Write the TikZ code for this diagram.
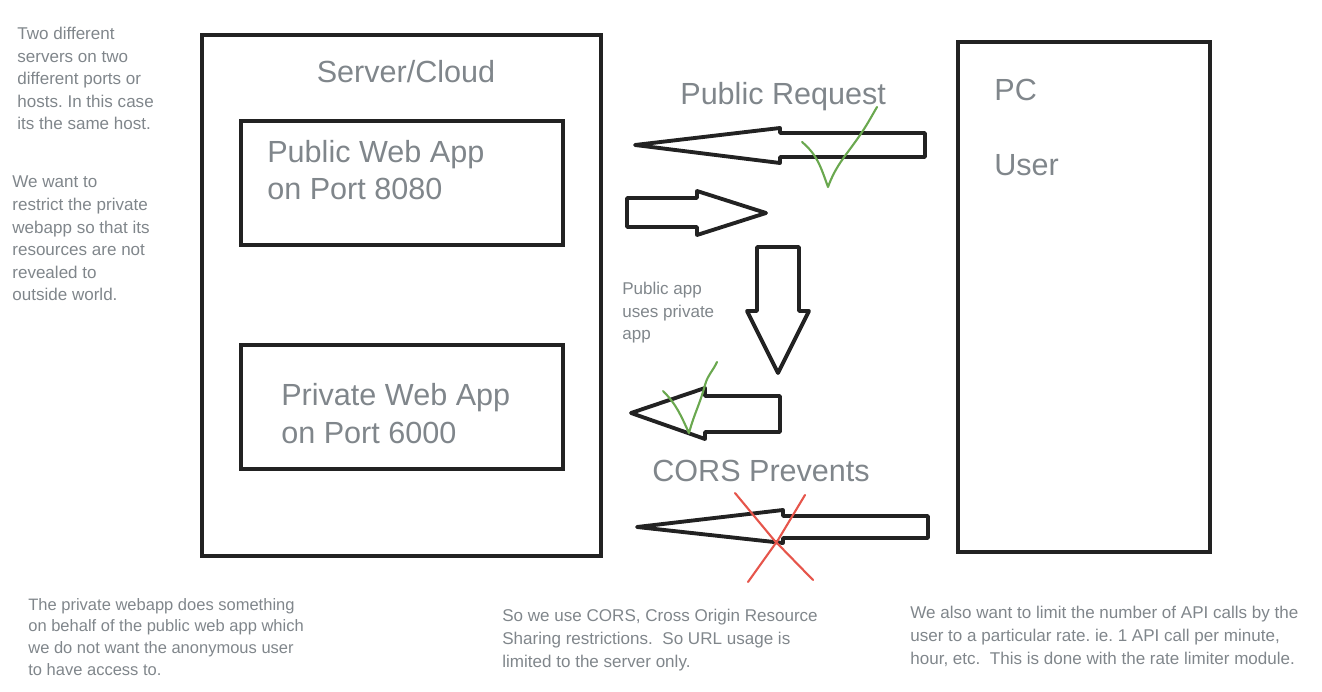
\documentclass[tikz,border=0pt]{standalone}
\usepackage{fontspec}
\setmainfont{Liberation Sans}
\usepackage{tikz}
\usetikzlibrary{positioning}
\frenchspacing
\definecolor{textgray}{RGB}{128,134,139}
\definecolor{linecol}{RGB}{34,34,34}
\definecolor{okgreen}{RGB}{106,168,79}
\definecolor{nored}{RGB}{230,85,75}
\tikzset{
	box/.style={draw=linecol, line width=2.2pt},
	blockarrow/.style={draw=linecol, line width=2.2pt, line join=round},
	bigtext/.style={text=textgray, font=\fontsize{17.4}{21.5}\selectfont, inner sep=0pt, align=left},
	note/.style={text=textgray, font=\fontsize{9.7}{12.9}\selectfont, inner sep=0pt, align=left},
	check/.style={draw=okgreen, line width=1.2pt, line join=round, line cap=round},
	cross/.style={draw=nored, line width=1.2pt, line cap=round}
}
\begin{document}
\begin{tikzpicture}[x=0.02cm, y=-0.02cm]
		\useasboundingbox (0,0) rectangle (1322,692);
		% boxes
		\draw[box] (202,35) rectangle (601,556);
		\draw[box] (241,121) rectangle (563,245);
		\draw[box] (241,345) rectangle (563,469);
		\draw[box] (958,42) rectangle (1210,552);
		
		% big labels (base = last line)
		\node[bigtext, anchor=base] (cloud) at (406,83) {Server/Cloud};
		\node[bigtext, anchor=base west] (pubapp) at (267,200) {Public Web App\\on Port 8080};
		\node[bigtext, anchor=base west] (privapp) at (281,443) {Private Web App\\on Port 6000};
		\node[bigtext, anchor=base west] (pc) at (994,101) {PC};
		\node[bigtext, anchor=base west] (user) at (994,176) {User};
		\node[bigtext, anchor=base west] (pubreq) at (680,105) {Public Request};
		\node[bigtext, anchor=base west] (cors) at (652,481) {CORS Prevents};
		
		% block arrows
		\draw[blockarrow] (925,133) -- (780,133) -- (780,128) -- (635,145) -- (780,163) -- (780,157) -- (925,157) -- cycle;
		\draw[blockarrow] (627,198) -- (697,198) -- (697,191) -- (766,213) -- (697,235) -- (697,227) -- (627,227) -- cycle;
		\draw[blockarrow] (757,247) -- (799,247) -- (799,311) -- (809,311) -- (778,373) -- (747,311) -- (757,311) -- cycle;
		\draw[blockarrow] (780,396) -- (705,396) -- (705,388) -- (631,413) -- (705,439) -- (705,432) -- (780,432) -- cycle;
		\draw[blockarrow] (928,516) -- (783,516) -- (783,510) -- (637,527) -- (783,543) -- (783,538) -- (928,538) -- cycle;
		
		% ticks and cross
		\draw[check] (802,142) to[out=-40,in=110] (828,187) to[out=70,in=-125] (858,138) to[out=55,in=-120] (877,107);
		\draw[check] (663,391) to[out=-45,in=115] (689,433) to[out=75,in=-105] (705,385) to[out=75,in=-115] (717,362);
		\draw[cross] (735,493) -- (774,540) -- (813,580);
		\draw[cross] (805,495) -- (778,540) -- (748,582);
		
		% notes (base = last line)
		\node[note, anchor=base west] (twosrv) at (17,130) {Two different\\servers on two\\different ports or\\hosts. In this case\\its the same host.};
		\node[note, anchor=base west] (restrict) at (12,301) {We want to\\restrict the private\\webapp so that its\\resources are not\\revealed to\\outside world.};
		\node[note, anchor=base west] (uses) at (622,340) {Public app\\uses private\\app};
		\node[note, anchor=base west, font=\fontsize{9.4}{12.3}\selectfont] (behalf) at (28,675) {The private webapp does something\\on behalf of the public web app which\\we do not want the anonymous user\\to have access to.};
		\node[note, anchor=base west] (usecors) at (502,667) {So we use CORS, Cross Origin Resource\\Sharing restrictions.\ \ So URL usage is\\limited to the server only.};
		\node[note, anchor=base west] (ratelim) at (910,664) {We also want to limit the number of API calls by the\\user to a particular rate. ie. 1 API call per minute,\\hour, etc.\ \ This is done with the rate limiter module.};
	\end{tikzpicture}
\end{document}
